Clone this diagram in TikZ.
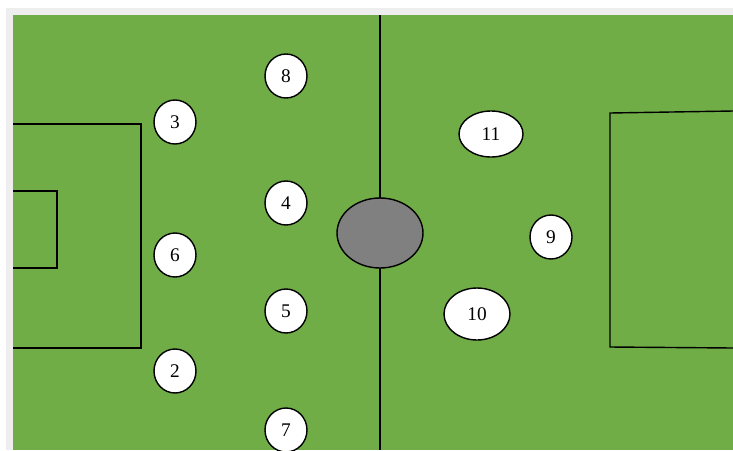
\documentclass[tikz,border=0pt]{standalone}
\usepackage{fontspec}
\setmainfont{Liberation Serif}
\usepackage{xcolor}
\usetikzlibrary{shapes.geometric}
\definecolor{PitchGreen}{HTML}{70AD47}
\definecolor{PitchFrame}{HTML}{EEEEEE}
\definecolor{BallGrey}{HTML}{808080}

\begin{document}
\begin{tikzpicture}[x=0.02cm,y=-0.02cm,
  player/.style={ellipse,draw=black,line width=0.8pt,fill=white,inner sep=0pt,
    minimum width=0.84cm,minimum height=0.88cm,font=\fontsize{11}{13}\selectfont},
  pitchline/.style={draw=black,line width=0.8pt}]
\path[use as bounding box] (0,0) rectangle (733,450);
\fill[white] (0,0) rectangle (733,450);
\fill[PitchFrame] (6,8) rectangle (733,450);
\fill[PitchGreen] (13,15) rectangle (733,450);
% left half
\draw[pitchline] (13,124) -- (141,124) -- (141,348) -- (13,348);
\draw[pitchline] (13,191) -- (57,191) -- (57,268) -- (13,268);
% halfway line and centre spot
\draw[pitchline] (380,15) -- (380,450);
\node[ellipse,draw=black,line width=0.8pt,fill=BallGrey,minimum width=1.72cm,minimum height=1.4cm] (ball) at (380,233) {};
% right half
\draw[pitchline] (733,111) -- (610,113) -- (610,347) -- (733,348);
% home side
\node[player] (p8) at (286,76) {8};
\node[player] (p3) at (175,122) {3};
\node[player] (p4) at (286,203) {4};
\node[player] (p6) at (175,255) {6};
\node[player] (p5) at (286,311) {5};
\node[player] (p2) at (175,371) {2};
\node[player] (p7) at (286,430) {7};
% away side
\node[player,minimum width=1.28cm,minimum height=0.92cm] (p11) at (491,134) {11};
\node[player] (p9) at (551,237) {9};
\node[player,minimum width=1.32cm,minimum height=1.04cm] (p10) at (477,314) {10};
\end{tikzpicture}
\end{document}
